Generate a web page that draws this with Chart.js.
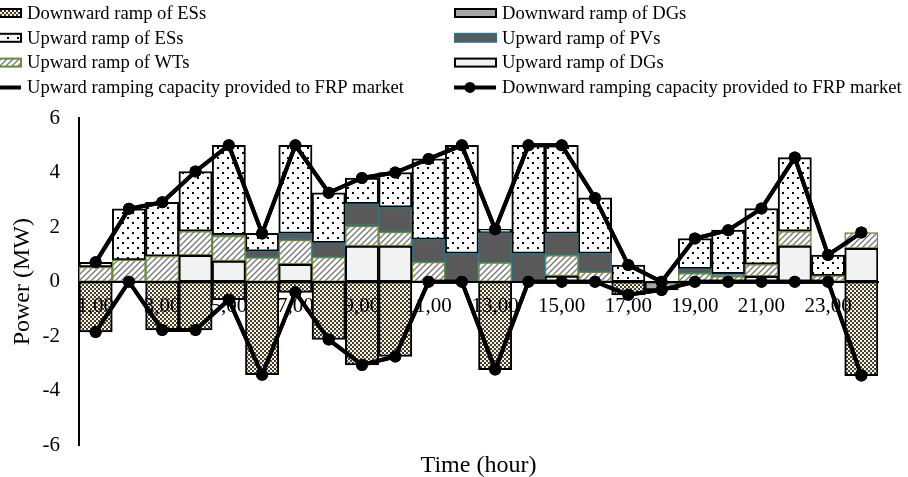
<!DOCTYPE html>
<html>
<head>
<meta charset="utf-8">
<script src="https://cdn.jsdelivr.net/npm/chart.js@4.4.1/dist/chart.umd.min.js"></script>
<style>
  html, body { margin: 0; padding: 0; background: #fff; }
</style>
</head>
<body>
<canvas id="chart" width="908" height="477"></canvas>
<script>
// hours of the day
var hours = ['1,00', '2,00', '3,00', '4,00', '5,00', '6,00', '7,00', '8,00', '9,00', '10,00', '11,00', '12,00',
  '13,00', '14,00', '15,00', '16,00', '17,00', '18,00', '19,00', '20,00', '21,00', '22,00', '23,00', '24,00'];

// upward ramp components (MW), stacked from zero
var upDG = [0, 0, 0, 0.97, 0.76, 0, 0.64, 0, 1.31, 1.31, 0, 0, 0, 0, 0.21, 0, 0, 0, 0, 0, 0.2, 1.31, 0, 1.22];
var upWT = [0.54, 0.8, 0.94, 0.88, 0.91, 0.88, 0.89, 0.9, 0.73, 0.51, 0.72, 0, 0.7, 0, 0.76, 0.36, 0, 0, 0.31, 0.2, 0.44, 0.54, 0.22, 0.58];
var upPV = [0, 0, 0, 0, 0.05, 0.24, 0.24, 0.53, 0.82, 0.91, 0.83, 1.04, 1.1, 1.04, 0.8, 0.68, 0, 0, 0.17, 0.09, 0, 0, 0, 0];
var upES = [0.17, 1.87, 1.97, 2.19, 3.28, 0.65, 3.23, 1.83, 0.94, 1.27, 2.95, 3.96, 0.12, 3.96, 3.23, 2.03, 0.61, 0, 1.1, 1.6, 2.04, 2.7, 0.76, 0];

// downward ramp components (MW)
var downES = [-1.84, 0, -1.77, -1.77, -0.66, -3.41, -0.39, -2.12, -3.05, -2.74, 0, 0, -3.22, 0, 0, 0, -0.48, 0, 0, 0, 0, 0, 0, -3.44];
var downDG = [0, 0, 0, 0, 0, 0, 0, 0, 0, 0, 0, 0, 0, 0, 0, 0, 0, -0.3, 0, 0, 0, 0, 0, 0];

// ramping capacity provided to FRP market (MW)
var upCapacity = [0.71, 2.67, 2.91, 4.04, 5.0, 1.77, 5.0, 3.26, 3.8, 4.0, 4.5, 5.0, 1.92, 5.0, 5.0, 3.07, 0.61, 0, 1.58, 1.89, 2.68, 4.55, 0.98, 1.8];
var downCapacity = [-1.84, 0, -1.77, -1.77, -0.66, -3.41, -0.39, -2.12, -3.05, -2.74, 0, 0, -3.22, 0, 0, 0, -0.48, -0.3, 0, 0, 0, 0, 0, -3.44];

var yTicks = { min: -6, max: 6, step: 2 };

(function render(doc) {
  var font = 'Liberation Serif';

  function makePattern(w, h, paint) {
    var c = doc.createElement('canvas');
    c.width = w;
    c.height = h;
    var g = c.getContext('2d');
    paint(g, w, h);
    return g.createPattern(c, 'repeat');
  }

  var dots = makePattern(10, 10, function (g) {
    g.fillStyle = '#fff';
    g.fillRect(0, 0, 10, 10);
    g.fillStyle = '#000';
    g.fillRect(2, 2, 2, 2);
    g.fillRect(7, 7, 2, 2);
  });

  var hatch = makePattern(6, 6, function (g) {
    g.fillStyle = '#fff';
    g.fillRect(0, 0, 6, 6);
    g.strokeStyle = '#767676';
    g.lineWidth = 1.3;
    g.beginPath();
    g.moveTo(0, 6); g.lineTo(6, 0);
    g.moveTo(-1, 1); g.lineTo(1, -1);
    g.moveTo(5, 7); g.lineTo(7, 5);
    g.stroke();
  });

  var confetti = makePattern(4, 4, function (g) {
    g.fillStyle = '#453f2a';
    g.fillRect(0, 0, 4, 4);
    g.fillStyle = '#f3f1e8';
    g.fillRect(0, 0, 2, 2);
    g.fillRect(2, 2, 2, 2);
  });

  function barSet(label, data, fill, stroke, width) {
    return {
      type: 'bar',
      label: label,
      data: data,
      backgroundColor: fill,
      borderColor: stroke,
      borderWidth: width,
      borderSkipped: false,
      stack: 'ramp',
      order: 1,
      categoryPercentage: 1,
      barPercentage: 1
    };
  }

  function lineSet(label, data, stack) {
    return {
      type: 'line',
      label: label,
      data: data,
      borderColor: '#000',
      backgroundColor: '#000',
      borderWidth: 4,
      pointRadius: 6,
      pointBackgroundColor: '#000',
      pointBorderWidth: 0,
      tension: 0,
      stack: stack,
      order: 0
    };
  }

  var legendRows = [
    { text: 'Downward ramp of ESs', x: 27, row: 0, fill: confetti, stroke: '#000' },
    { text: 'Downward ramp of DGs', x: 502, row: 0, fill: '#a6a6a6', stroke: '#000' },
    { text: 'Upward ramp of ESs', x: 27, row: 1, fill: dots, stroke: '#000' },
    { text: 'Upward ramp of PVs', x: 502, row: 1, fill: '#595959', stroke: '#2f6f80' },
    { text: 'Upward ramp of WTs', x: 27, row: 2, fill: hatch, stroke: '#6a8a3a' },
    { text: 'Upward ramp of DGs', x: 502, row: 2, fill: '#f2f2f2', stroke: '#000' },
    { text: 'Upward ramping capacity provided to FRP market', x: 27, row: 3, line: true },
    { text: 'Downward ramping capacity provided to FRP market', x: 502, row: 3, line: true }
  ];

  var legendPlugin = {
    id: 'frpLegend',
    afterDraw: function (chart) {
      var ctx = chart.ctx;
      // lines go above the axis labels
      chart.data.datasets.forEach(function (ds, i) {
        if (ds.type === 'line') chart.getDatasetMeta(i).controller.draw();
      });
      ctx.save();
      ctx.font = '18.6px "' + font + '"';
      ctx.textBaseline = 'middle';
      ctx.fillStyle = '#000';
      legendRows.forEach(function (item) {
        var y = 13 + item.row * 24.8;
        if (item.line) {
          ctx.strokeStyle = '#000';
          ctx.lineWidth = 4;
          ctx.beginPath();
          ctx.moveTo(item.x - 48, y);
          ctx.lineTo(item.x - 6, y);
          ctx.stroke();
          ctx.beginPath();
          ctx.arc(item.x - 32, y, 5.5, 0, Math.PI * 2);
          ctx.fill();
        } else {
          ctx.fillStyle = item.fill;
          ctx.fillRect(item.x - 47, y - 4, 41, 8);
          ctx.strokeStyle = item.stroke;
          ctx.lineWidth = 2;
          ctx.strokeRect(item.x - 47, y - 4, 41, 8);
        }
        ctx.fillStyle = '#000';
        ctx.fillText(item.text, item.x, y + 1);
      });
      ctx.restore();
    }
  };

  Chart.defaults.font.family = font;
  Chart.defaults.font.size = 21;
  Chart.defaults.color = '#000';

  new Chart(doc.getElementById('chart').getContext('2d'), {
    data: {
      labels: hours,
      datasets: [
        lineSet('Upward ramping capacity provided to FRP market', upCapacity, 'up'),
        lineSet('Downward ramping capacity provided to FRP market', downCapacity, 'down'),
        barSet('Upward ramp of DGs', upDG, '#f2f2f2', '#000', 2),
        barSet('Upward ramp of WTs', upWT, hatch, '#6a8a3a', 1.5),
        barSet('Upward ramp of PVs', upPV, '#595959', '#2f6f80', 1.5),
        barSet('Upward ramp of ESs', upES, dots, '#000', 2),
        barSet('Downward ramp of ESs', downES, confetti, '#000', 2),
        barSet('Downward ramp of DGs', downDG, '#a6a6a6', '#000', 2)
      ]
    },
    options: {
      responsive: false,
      animation: false,
      layout: { padding: { top: 118, right: 30, bottom: 0, left: 0 } },
      plugins: {
        legend: { display: false },
        tooltip: { enabled: false }
      },
      scales: {
        x: {
          type: 'category',
          position: { y: 0 },
          grid: { display: false, drawTicks: false },
          border: { display: true, color: '#000', width: 2, z: 1 },
          ticks: {
            z: 1,
            autoSkip: false,
            maxRotation: 0,
            padding: 12,
            callback: function (value, index) {
              return index % 2 === 0 ? this.getLabelForValue(value) : '';
            }
          }
        },
        x2: {
          type: 'category',
          position: 'bottom',
          labels: hours,
          grid: { display: false, drawTicks: false },
          border: { display: false },
          ticks: { display: false },
          title: {
            display: true,
            text: 'Time (hour)',
            font: { size: 24 },
            padding: { top: 5.6, bottom: -4.4 }
          }
        },
        y: {
          stacked: true,
          min: yTicks.min,
          max: yTicks.max,
          afterFit: function (scale) { scale.width = 79; },
          grid: { display: false, drawTicks: false },
          border: { display: true, color: '#000', width: 2 },
          ticks: { stepSize: yTicks.step, padding: 19 },
          title: {
            display: true,
            text: 'Power (MW)',
            font: { size: 24 },
            padding: { top: 8, bottom: 0 }
          }
        }
      }
    },
    plugins: [legendPlugin]
  });
})(document);
</script>
</body>
</html>
